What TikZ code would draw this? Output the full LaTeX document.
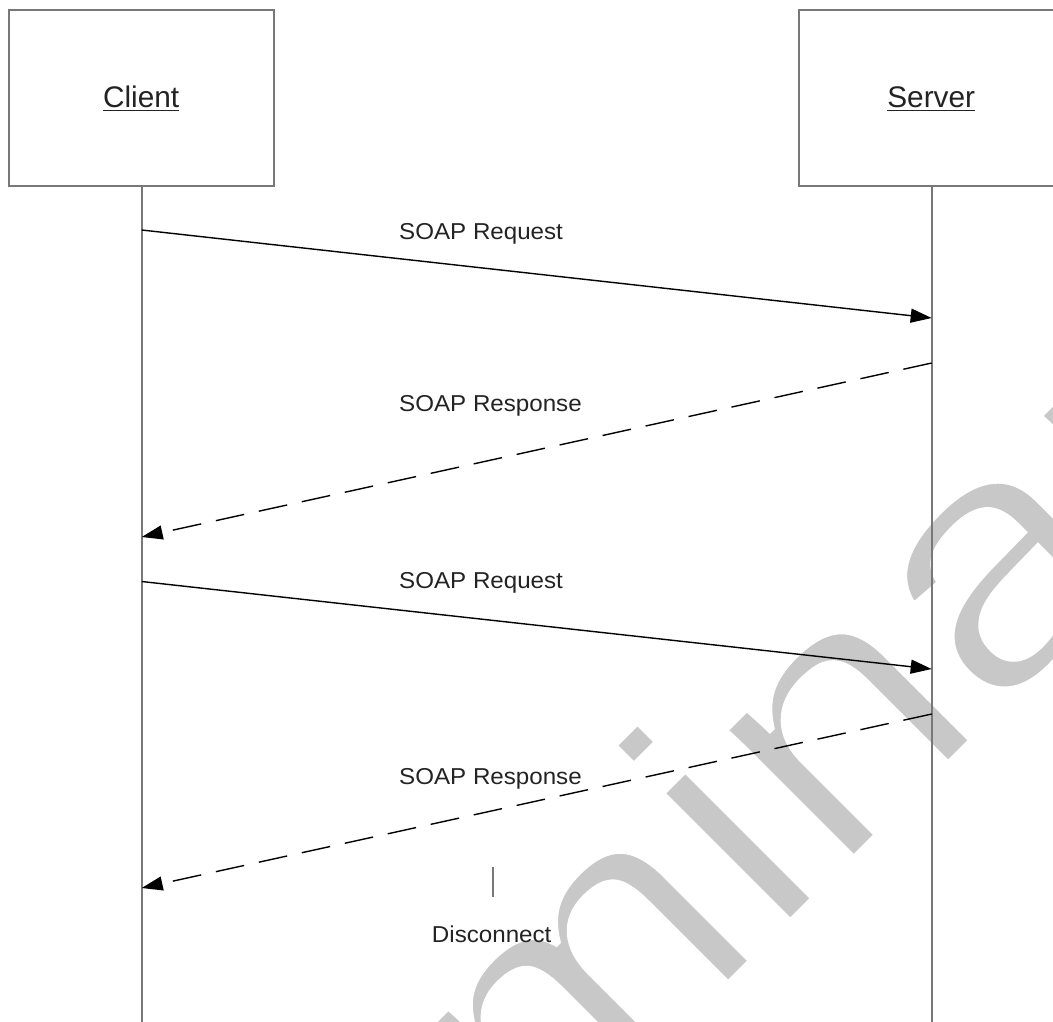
\documentclass[tikz,border=0pt]{standalone}
\usepackage{fontspec}
\setmainfont{Liberation Sans}
\usetikzlibrary{arrows.meta}
\definecolor{lifegray}{RGB}{120,120,120}
\definecolor{txtcol}{RGB}{35,35,35}
\definecolor{wmgray}{RGB}{200,200,200}
\newcommand{\thinwm}[1]{\special{pdf:literal direct 1 1 1 RG 7 w 2 Tr}#1\special{pdf:literal direct 0 Tr}}
\begin{document}
\begin{tikzpicture}[x=1pt,y=-1pt,
  actor/.style={draw=lifegray, line width=2pt, fill=white, minimum width=264.7pt, minimum height=176pt, inner sep=0pt},
  actortitle/.style={text=txtcol, inner sep=0pt, font=\fontsize{29.8}{36}\selectfont},
  lbl/.style={text=txtcol, inner sep=0pt, font=\fontsize{23}{28}\selectfont},
  lifeline/.style={draw=lifegray, line width=2pt},
  msg/.style={draw=black, line width=1.4pt, -{Triangle[length=21pt,width=14pt]}},
  reply/.style={msg, dash pattern=on 29pt off 15pt},
  uline/.style={draw=txtcol, line width=1.4pt},
  watermark/.style={text=wmgray, inner sep=0pt, rotate=45, anchor=base, font=\fontsize{345}{400}\selectfont}
]
\useasboundingbox (0,0) rectangle (1053,1021);
\clip (0,0) rectangle (1053,1021);

% watermark
\node[watermark] (wm) at (676.8,1035.7) {\scalebox{1.16}[1]{\thinwm{Preliminary}}};

% actors
\node[actor] (client) at (141.7,98) {};
\node[actor] (server) at (931.7,98) {};
\node[actortitle, anchor=base] (clientlbl) at (141.2,107.3) {Client};
\node[actortitle, anchor=base] (serverlbl) at (931.2,107.3) {Server};
\draw[uline] ([yshift=-3.2pt]clientlbl.base west) -- ([yshift=-3.2pt]clientlbl.base east);
\draw[uline] ([yshift=-3.2pt]serverlbl.base west) -- ([yshift=-3.2pt]serverlbl.base east);

% lifelines
\coordinate (clientbot) at (141.7,1030);
\coordinate (serverbot) at (931.7,1030);
\draw[lifeline] (client.south) -- (clientbot);
\draw[lifeline] (server.south) -- (serverbot);

% message points
\coordinate (c1) at (141.7,230);
\coordinate (s1) at (931.7,318);
\coordinate (s2) at (931.7,363);
\coordinate (c2) at (141.7,537);
\coordinate (c3) at (141.7,581.5);
\coordinate (s3) at (931.7,669);
\coordinate (s4) at (931.7,714);
\coordinate (c4) at (141.7,888);

\draw[msg] (c1) -- (s1);
\draw[reply] (s2) -- (c2);
\draw[msg] (c3) -- (s3);
\draw[reply] (s4) -- (c4);

% labels
\node[lbl, anchor=base west] (req1) at (399,239.3) {\scalebox{1.05}[1]{SOAP Request}};
\node[lbl, anchor=base west] (resp1) at (399,411) {\scalebox{1.05}[1]{SOAP Response}};
\node[lbl, anchor=base west] (req2) at (399,588.3) {\scalebox{1.05}[1]{SOAP Request}};
\node[lbl, anchor=base west] (resp2) at (399,784.3) {\scalebox{1.05}[1]{SOAP Response}};

% disconnect
\coordinate (dtop) at (492.5,867.3);
\coordinate (dbot) at (492.5,896.7);
\draw[lifeline] (dtop) -- (dbot);
\node[lbl, anchor=base] (disc) at (491.7,942.3) {\scalebox{1.05}[1]{Disconnect}};
\end{tikzpicture}
\end{document}
